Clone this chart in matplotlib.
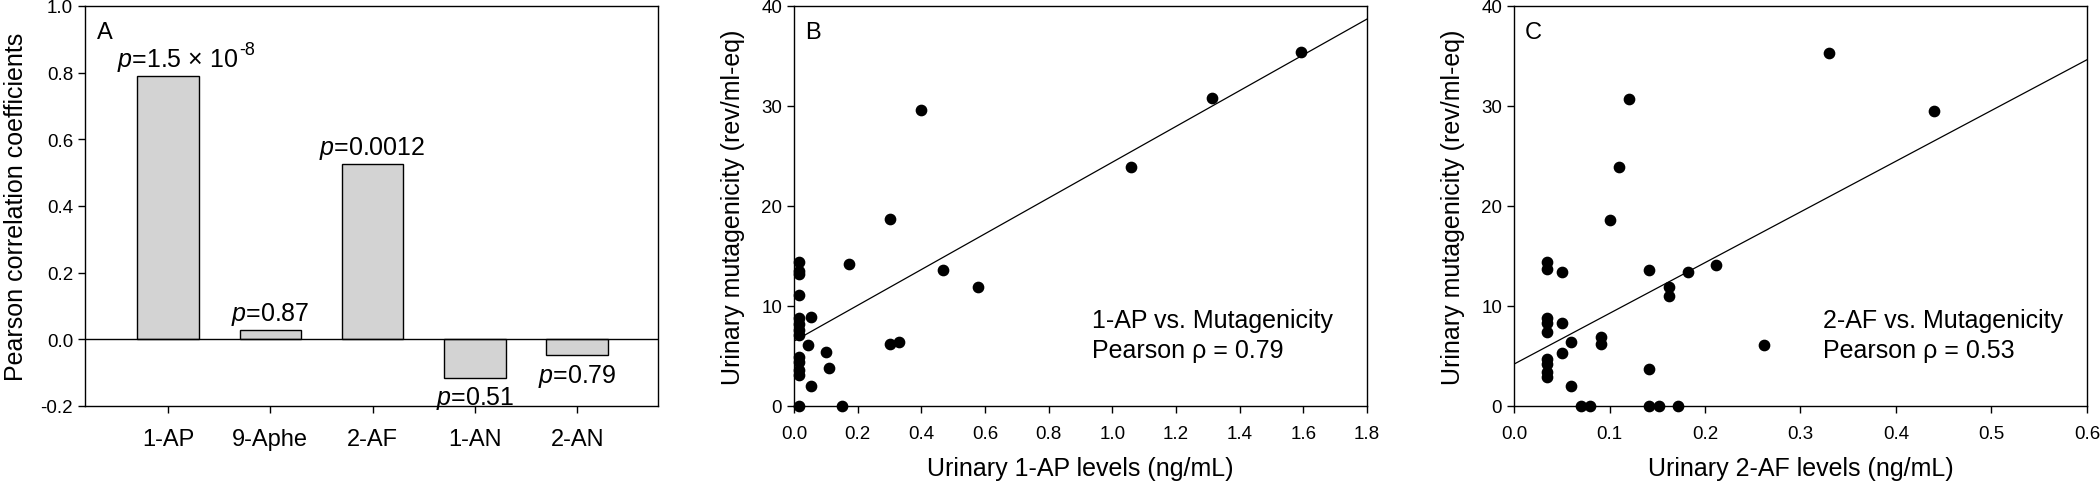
import numpy as np
import matplotlib
matplotlib.use("Agg")
import matplotlib.pyplot as plt

plt.rcParams["font.family"] = ["Liberation Sans", "DejaVu Sans"]
plt.rcParams["mathtext.fontset"] = "custom"
plt.rcParams["mathtext.rm"] = "Liberation Sans"
plt.rcParams["mathtext.it"] = "Liberation Sans:italic"

# ── Panel A: correlation coefficients ────────────────────────────────────────
compounds = ["1-AP", "9-Aphe", "2-AF", "1-AN", "2-AN"]
pearson_r = [0.79, 0.028, 0.526, -0.115, -0.048]
p_labels = [r"$p$=1.5 × 10", r"$p$=0.87", r"$p$=0.0012", r"$p$=0.51", r"$p$=0.79"]
p_exponents = ["-8", "", "", "", ""]

# ── Panel B: 1-AP vs mutagenicity ────────────────────────────────────────────
ap_levels = [0.015, 0.015, 0.015, 0.015, 0.015, 0.015, 0.015, 0.015, 0.015, 0.015,
             0.015, 0.015, 0.015, 0.052, 0.044, 0.102, 0.111, 0.052, 0.151, 0.172,
             0.30, 0.30, 0.331, 0.469, 0.579, 0.40, 1.059, 1.312, 1.592]
ap_mutagenicity = [14.45, 13.55, 13.2, 11.1, 8.8, 8.25, 7.65, 7.1, 4.9, 4.45,
                   3.65, 3.1, 0.0, 8.9, 6.15, 5.4, 3.8, 2.05, 0.0, 14.2,
                   18.7, 6.25, 6.45, 13.6, 11.9, 29.6, 23.9, 30.8, 35.4]

# ── Panel C: 2-AF vs mutagenicity ────────────────────────────────────────────
af_levels = [0.035, 0.035, 0.035, 0.035, 0.035, 0.035, 0.035, 0.035, 0.035,
             0.05, 0.05, 0.05, 0.06, 0.06, 0.07, 0.08, 0.091, 0.091, 0.10, 0.11,
             0.12, 0.141, 0.141, 0.141, 0.152, 0.162, 0.162, 0.172, 0.182, 0.212,
             0.262, 0.33, 0.44]
af_mutagenicity = [14.4, 13.7, 8.8, 8.3, 7.4, 4.7, 4.2, 3.4, 2.9,
                   13.4, 8.3, 5.3, 6.4, 2.0, 0.0, 0.0, 6.9, 6.2, 18.6, 23.9,
                   30.75, 13.6, 3.7, 0.0, 0.0, 11.9, 11.0, 0.0, 13.4, 14.1,
                   6.1, 35.3, 29.5]

BAR_GREY = "#d3d3d3"
W, H = 2100, 485


def axes_rect(left_px):
    return [left_px / W, (H - 407) / H, 573 / W, 400 / H]


def style_axes(ax):
    for sp in ax.spines.values():
        sp.set_linewidth(1.0)
    ax.tick_params(axis="both", which="both", direction="out", length=5,
                   width=1.0, labelsize=13.5, top=False, right=False)


fig = plt.figure(figsize=(W / 100, H / 100), dpi=100)

# ── A ──
ax_a = fig.add_axes(axes_rect(85))
pos = np.arange(len(compounds))
ax_a.bar(pos, pearson_r, width=0.6, color=BAR_GREY, edgecolor="black",
         linewidth=1.0, zorder=2)
ax_a.axhline(0, color="black", lw=1.0, zorder=3)
for x, v, lab, ex in zip(pos, pearson_r, p_labels, p_exponents):
    if v >= 0:
        t = ax_a.text(x + (0.1 if ex else 0), v + 0.01, lab, ha="center",
                      va="bottom", fontsize=18)
    else:
        t = ax_a.text(x, v - 0.02, lab, ha="center", va="top", fontsize=18)
    if ex:
        ax_a.annotate(ex, xy=(1.0, 0.55), xycoords=t, ha="left", va="bottom",
                      fontsize=13)
ax_a.set_xlim(-0.81, 4.79)
ax_a.set_ylim(-0.2, 1.0)
yt = np.arange(-0.2, 1.01, 0.2)
ax_a.set_yticks(yt)
ax_a.set_yticklabels([f"{t:.1f}" for t in yt])
ax_a.set_xticks(pos)
ax_a.set_xticklabels(compounds)
style_axes(ax_a)
ax_a.tick_params(axis="x", labelsize=17, pad=11)
ax_a.set_ylabel("Pearson correlation coefficients", fontsize=18)
ax_a.yaxis.set_label_coords(-0.10, 0.5)
ax_a.text(0.035, 0.935, "A", transform=ax_a.transAxes, ha="center",
          va="center", fontsize=17)

# ── B & C ──
panels = [
    (794, ap_levels, ap_mutagenicity, 1.8, 0.2, "B",
     "Urinary 1-AP levels (ng/mL)", "1-AP vs. Mutagenicity\nPearson ρ = 0.79", 0.936),
    (1514, af_levels, af_mutagenicity, 0.6, 0.1, "C",
     "Urinary 2-AF levels (ng/mL)", "2-AF vs. Mutagenicity\nPearson ρ = 0.53", 0.324),
]
for left, xs, ys, xmax, step, letter, xlabel, note, note_x in panels:
    ax = fig.add_axes(axes_rect(left))
    ax.scatter(xs, ys, s=55, color="black", zorder=3, clip_on=False)
    fit = np.polyfit(xs, ys, 1)
    line_x = np.array([0, xmax])
    ax.plot(line_x, np.polyval(fit, line_x), color="black", lw=0.9, zorder=2)
    ax.set_xlim(0, xmax)
    ax.set_ylim(0, 40)
    ticks = np.arange(0, xmax + step / 2, step)
    ax.set_xticks(ticks)
    ax.set_xticklabels([f"{t:.1f}" for t in ticks])
    ax.set_yticks(np.arange(0, 41, 10))
    style_axes(ax)
    ax.tick_params(axis="x", pad=9)
    ax.set_xlabel(xlabel, fontsize=18)
    ax.xaxis.set_label_coords(0.5, -0.125)
    ax.set_ylabel("Urinary mutagenicity (rev/ml-eq)", fontsize=18)
    ax.yaxis.set_label_coords(-0.085, 0.5)
    ax.text(0.033, 0.935, letter, transform=ax.transAxes, ha="center",
            va="center", fontsize=17)
    ax.text(note_x, 7.1, note, ha="left", va="center", fontsize=18,
            linespacing=1.3)

fig.savefig("out.png", dpi=100)
